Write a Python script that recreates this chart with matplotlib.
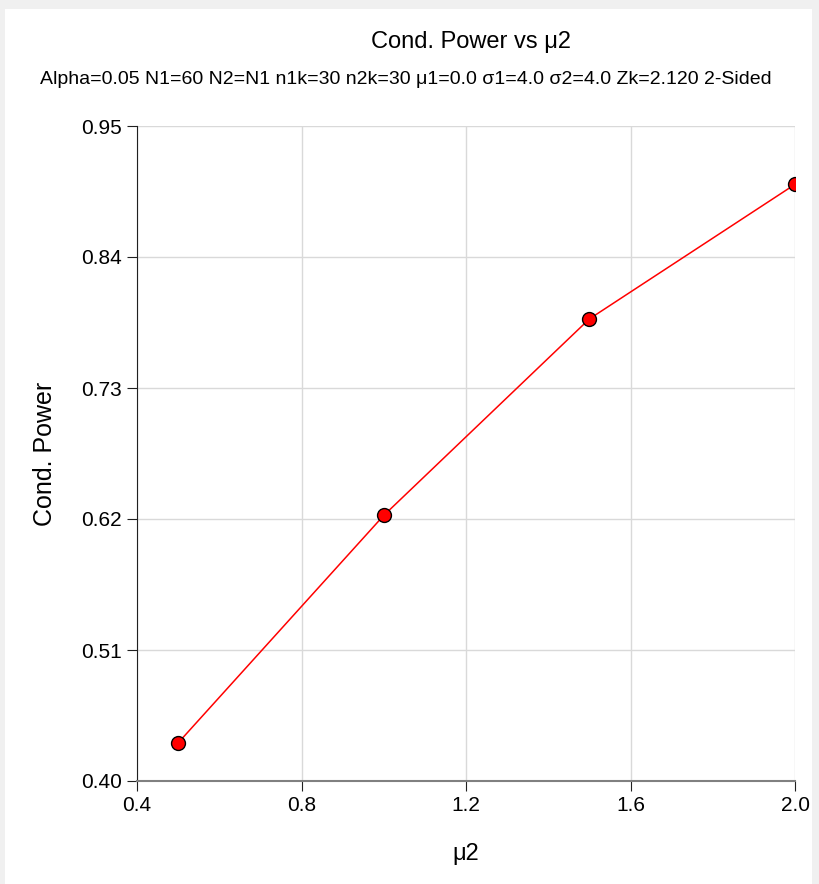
import matplotlib
matplotlib.use("Agg")
import matplotlib.pyplot as plt
from matplotlib.patches import Rectangle

plt.rcParams['font.family'] = ['Liberation Sans', 'DejaVu Sans']

mu2 = [0.5, 1.0, 1.5, 2.0]
cond_power = [0.432, 0.623, 0.788, 0.901]
xticks = [0.4, 0.8, 1.2, 1.6, 2.0]
yticks = [0.40, 0.51, 0.62, 0.73, 0.84, 0.95]

title = "Cond. Power vs μ2"
subtitle = "Alpha=0.05 N1=60 N2=N1 n1k=30 n2k=30 μ1=0.0 σ1=4.0 σ2=4.0 Zk=2.120 2-Sided"

W, H = 820, 884
fig = plt.figure(figsize=(W/100, H/100), dpi=100, facecolor='#f0f0f0')
bg = Rectangle((5/W, 0), (812-5)/W, (H-9)/H, transform=fig.transFigure,
               facecolor='white', edgecolor='none', zorder=-10)
fig.patches.append(bg)

ax = fig.add_axes([137/W, (H-781)/H, (795-137)/W, (781-126)/H])
ax.set_facecolor('white')
ax.plot(mu2, cond_power, color='red', lw=1.1, marker='o', markersize=10,
        markerfacecolor='red', markeredgecolor='black', markeredgewidth=1.0, zorder=3)

ax.set_xlim(0.4, 2.0)
ax.set_ylim(0.40, 0.95)
ax.set_xticks(xticks)
ax.set_xticklabels([f"{v:.1f}" for v in xticks])
ax.set_yticks(yticks)
ax.set_yticklabels([f"{v:.2f}" for v in yticks])
ax.grid(True, color='#d9d9d9', lw=1.0)
ax.set_axisbelow(True)
for s in ['top', 'right']:
    ax.spines[s].set_visible(False)
ax.spines['left'].set_color('#202020')
ax.spines['bottom'].set_color('#808080')
ax.spines['bottom'].set_linewidth(1.5)
ax.tick_params(axis='both', labelsize=15, length=7, color='#202020', direction='out', pad=4)

ax.set_xlabel("μ2", fontsize=17, labelpad=20)
ax.set_ylabel("Cond. Power", fontsize=18)
ax.yaxis.set_label_coords((57 - 137)/(795 - 137), 0.5)

fig.text(471/W, 1 - 42/H, title, ha='center', va='center', fontsize=17)
fig.text(406/W, 1 - 80/H, subtitle, ha='center', va='center', fontsize=14)

fig.savefig("out.png", dpi=100, facecolor=fig.get_facecolor())
